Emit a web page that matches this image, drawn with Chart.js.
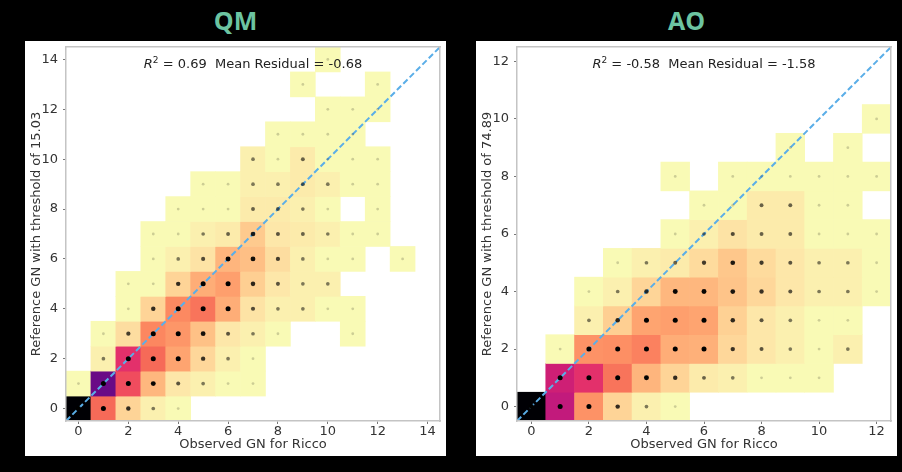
<!DOCTYPE html>
<html>
<head>
<meta charset="utf-8">
<script src="https://cdn.jsdelivr.net/npm/chart.js@4.4.0/dist/chart.umd.min.js"></script>
<style>
  html, body { margin: 0; padding: 0; background: #000; }
  body { width: 902px; height: 472px; position: relative; overflow: hidden; font-family: "DejaVu Sans", sans-serif; }
  .titulo { position: absolute; top: 2px; width: 421px; text-align: center; color: #6cc4a1;
            font: 700 25px "Open Sans", sans-serif; line-height: 36px; }
  .panel { position: absolute; top: 41px; width: 421px; height: 415px; background: #fff; }
  .panel canvas { position: absolute; left: 0; top: 0; }
  .anot { position: absolute; top: 15px; left: 41px; width: 374px; text-align: center;
          font-size: 13px; line-height: 16px; color: #222; white-space: pre; }
  .anot sup { font-size: 9px; vertical-align: 5px; line-height: 0; }
</style>
</head>
<body>
<div class="titulo" style="left:25px">QM</div>
<div class="titulo" style="left:476px">AO</div>
<div class="panel" style="left:25px">
  <canvas id="graficoQM" width="421" height="415"></canvas>
  <div class="anot"><i>R</i><sup>2</sup> = 0.69  Mean Residual = -0.68</div>
</div>
<div class="panel" style="left:476px">
  <canvas id="graficoAO" width="421" height="415"></canvas>
  <div class="anot"><i>R</i><sup>2</sup> = -0.58  Mean Residual = -1.58</div>
</div>
<script>
// Conteos por celda: fila = GN de referencia (0 abajo), columna = GN observado.
const cuentasQM = [
  [1e12, 4000, 12, 2, 1, 0, 0, 0, 0, 0, 0, 0, 0, 0, 0],
  [1, 2.5e8, 16000, 63, 4, 2, 1, 1, 0, 0, 0, 0, 0, 0, 0],
  [0, 2, 63000, 4000, 190, 10, 2, 1, 0, 0, 0, 0, 0, 0, 0],
  [0, 1, 7, 1100, 450, 36, 4, 2, 1, 0, 0, 1, 0, 0, 0],
  [0, 0, 1, 12, 1000, 2500, 110, 5, 2, 2, 1, 1, 0, 0, 0],
  [0, 0, 1, 1, 12, 110, 250, 16, 4, 2, 2, 0, 0, 0, 0],
  [0, 0, 0, 1, 2, 5, 70, 40, 7, 2, 1, 1, 0, 1, 0],
  [0, 0, 0, 1, 1, 2, 3, 21, 4, 3, 2, 1, 1, 0, 0],
  [0, 0, 0, 0, 1, 1, 1, 3, 3, 2, 1, 0, 1, 0, 0],
  [0, 0, 0, 0, 0, 1, 1, 2, 2, 3, 2, 1, 1, 0, 0],
  [0, 0, 0, 0, 0, 0, 0, 2, 1, 3, 1, 1, 1, 0, 0],
  [0, 0, 0, 0, 0, 0, 0, 0, 1, 1, 1, 1, 0, 0, 0],
  [0, 0, 0, 0, 0, 0, 0, 0, 0, 0, 1, 1, 1, 0, 0],
  [0, 0, 0, 0, 0, 0, 0, 0, 0, 1, 0, 0, 1, 0, 0],
  [0, 0, 0, 0, 0, 0, 0, 0, 0, 0, 1, 0, 0, 0, 0]
];
const cuentasAO = [
  [1e12, 1e6, 575, 12, 2, 1, 0, 0, 0, 0, 0, 0, 0],
  [0, 400000, 63000, 2500, 70, 12, 3, 2, 1, 1, 1, 0, 0],
  [0, 1, 575, 700, 1400, 110, 95, 10, 4, 2, 1, 2, 0],
  [0, 0, 2, 16, 190, 250, 190, 14, 4, 2, 1, 1, 0],
  [0, 0, 1, 2, 11, 63, 63, 30, 10, 4, 2, 2, 1],
  [0, 0, 0, 1, 2, 3, 8, 25, 8, 4, 2, 2, 1],
  [0, 0, 0, 0, 0, 1, 2, 5, 3, 3, 1, 1, 1],
  [0, 0, 0, 0, 0, 0, 1, 1, 3, 3, 1, 1, 0],
  [0, 0, 0, 0, 0, 1, 0, 1, 1, 1, 1, 1, 1],
  [0, 0, 0, 0, 0, 0, 0, 0, 0, 1, 0, 1, 0],
  [0, 0, 0, 0, 0, 0, 0, 0, 0, 0, 0, 0, 1],
  [0, 0, 0, 0, 0, 0, 0, 0, 0, 0, 0, 0, 0],
  [0, 0, 0, 0, 0, 0, 0, 0, 0, 0, 0, 0, 0]
];
const ticksQM = [0, 2, 4, 6, 8, 10, 12, 14];
const ticksAO = [0, 2, 4, 6, 8, 10, 12];
const tituloX = 'Observed GN for Ricco';
const tituloYQM = 'Reference GN with threshold of 15.03';
const tituloYAO = 'Reference GN with threshold of 74.89';

// magma (matplotlib), de 0 a 1 cada 0.05 — se usa al revés (magma_r).
// Los tonos del medio van más saturados y el último un poco más verdoso,
// como se ven en la imagen.
const MAGMA = ['#000004', '#07061c', '#150e37', '#251255', '#3b0f70', '#520a80', '#6a0a86',
  '#800e86', '#961584', '#ad1a80', '#c21a7c', '#d42272', '#e3306b', '#f04c5e', '#f66a58',
  '#fc8961', '#fe9f6d', '#feb77e', '#fecf92', '#fde7a9', '#f9fab5'];
const CUENTA_MAX = 1e12;
const FUENTE = { family: 'DejaVu Sans', size: 13 };

// escala logarítmica: 1 -> 0, CUENTA_MAX -> 1
function nivel(v) { return Math.min(1, Math.log(v) / Math.log(CUENTA_MAX)); }

function hexARgb(h) {
  return [1, 3, 5].map(i => parseInt(h.slice(i, i + 2), 16));
}

function colorCelda(v) {
  let t = (1 - nivel(v)) * (MAGMA.length - 1);
  let i = Math.min(MAGMA.length - 2, Math.floor(t));
  let f = t - i;
  let a = hexARgb(MAGMA[i]), b = hexARgb(MAGMA[i + 1]);
  let c = a.map((x, k) => Math.round(x + (b[k] - x) * f));
  return `rgb(${c[0]},${c[1]},${c[2]})`;
}

// el punto del centro se oscurece (y crece un poco) con la cantidad de casos
function pesoPunto(v) { return Math.min(1, Math.sqrt(nivel(v) / 0.16)); }
function alfaPunto(v) { return 0.18 + 0.82 * pesoPunto(v); }
function radioPunto(v) { return 1.4 + 1.1 * pesoPunto(v); }

function celdas(cuentas) {
  let out = [];
  cuentas.forEach((fila, r) => fila.forEach((v, c) => {
    if (v > 0) out.push({ x: c, y: [r - 0.5, r + 0.5], v });
  }));
  return out;
}

function puntos(cuentas) {
  let out = [];
  cuentas.forEach((fila, r) => fila.forEach((v, c) => {
    if (v > 0) out.push({ x: c, y: r, v });
  }));
  return out;
}

function ejeMarco(pos, maximo) {
  return {
    type: 'linear', position: pos, display: true, offset: false, min: -0.5, max: maximo,
    ticks: { display: false },
    grid: { drawOnChartArea: false, drawTicks: false },
    border: { display: true, color: '#c4c4c4', width: 1.5, z: 1 },
    afterFit: s => {
      if (pos === 'top') s.height = 0; else s.width = 0;
      s.paddingTop = s.paddingBottom = s.paddingLeft = s.paddingRight = 0;
    }
  };
}

function armarGrafico(id, cuentas, ticks, tituloY) {
  let maximo = cuentas.length - 0.5;

  new Chart(document.getElementById(id), {
    type: 'bar',
    data: {
      datasets: [
        {
          type: 'bar', data: celdas(cuentas), xAxisID: 'x', yAxisID: 'y',
          backgroundColor: ctx => ctx.raw ? colorCelda(ctx.raw.v) : '#fff',
          grouped: false, barPercentage: 1, categoryPercentage: 1, borderWidth: 0, order: 3
        },
        {
          type: 'line', data: [{ x: -0.5, y: -0.5 }, { x: maximo, y: maximo }], xAxisID: 'x', yAxisID: 'y',
          borderColor: '#5aaee8', borderWidth: 2, borderDash: [6, 3], pointRadius: 0, fill: false, order: 2
        },
        {
          type: 'scatter', data: puntos(cuentas), xAxisID: 'x', yAxisID: 'y',
          pointBackgroundColor: ctx => ctx.raw ? `rgba(0,0,0,${alfaPunto(ctx.raw.v)})` : '#000',
          pointRadius: ctx => ctx.raw ? radioPunto(ctx.raw.v) : 2,
          pointBorderWidth: 0, order: 1
        }
      ]
    },
    options: {
      responsive: false,
      animation: false,
      devicePixelRatio: 1,
      events: [],
      layout: { padding: { top: 6, right: 6, left: 0, bottom: 0 } },
      plugins: { legend: { display: false }, tooltip: { enabled: false } },
      scales: {
        x: {
          type: 'linear', min: -0.5, max: maximo, offset: false,
          afterBuildTicks: s => { s.ticks = ticks.map(v => ({ value: v })); },
          afterFit: s => { s.height = 35; s.paddingLeft = s.paddingRight = 0; },
          grid: { drawOnChartArea: false, drawTicks: true, tickLength: 3, color: '#777', offset: false },
          border: { display: true, color: '#c4c4c4', width: 1.5, z: 1 },
          ticks: { padding: 0, color: '#333', font: FUENTE, maxRotation: 0 },
          title: { display: true, text: tituloX, color: '#333', font: FUENTE, padding: { top: 0, bottom: 3.5 } }
        },
        y: {
          type: 'linear', min: -0.5, max: maximo,
          afterBuildTicks: s => { s.ticks = ticks.map(v => ({ value: v })); },
          afterFit: s => { s.width = 41; s.paddingTop = s.paddingBottom = 0; },
          grid: { drawOnChartArea: false, drawTicks: true, tickLength: 3, color: '#777' },
          border: { display: true, color: '#c4c4c4', width: 1.5, z: 1 },
          ticks: { padding: 5, color: '#333', font: FUENTE },
          title: { display: true, text: tituloY, color: '#333', font: FUENTE, padding: { top: 4, bottom: 0 } }
        },
        x2: ejeMarco('top', maximo),
        y2: ejeMarco('right', maximo)
      }
    }
  });
}

armarGrafico('graficoQM', cuentasQM, ticksQM, tituloYQM);
armarGrafico('graficoAO', cuentasAO, ticksAO, tituloYAO);
</script>
</body>
</html>
